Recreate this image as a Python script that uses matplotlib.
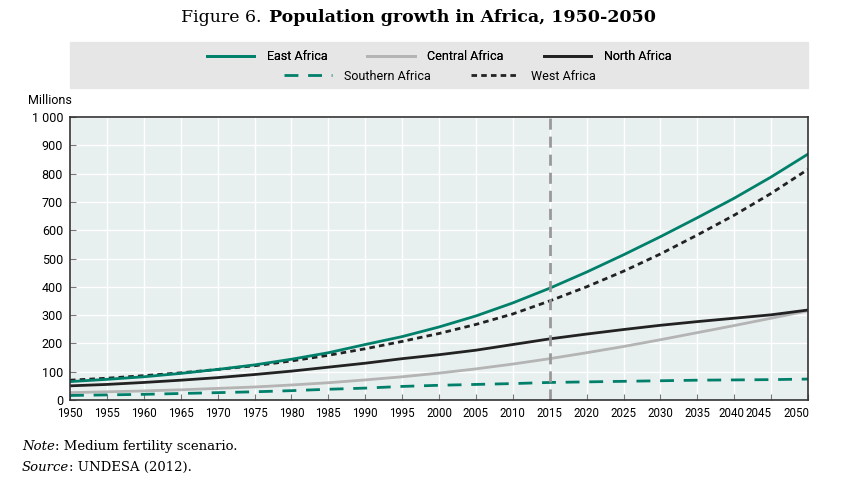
import matplotlib.pyplot as plt
import matplotlib.transforms as mtransforms
from matplotlib.patches import Rectangle
from matplotlib.lines import Line2D

years = list(range(1950, 2051, 5))
east = [65, 73, 82, 94, 108, 124, 144, 167, 196, 224, 258, 297, 343, 395, 452, 513, 577, 644, 713, 788, 869]
central = [26, 29, 32, 36, 41, 46, 53, 61, 71, 82, 95, 110, 127, 146, 167, 189, 213, 238, 263, 289, 315]
north = [50, 55, 62, 70, 79, 90, 102, 116, 130, 146, 160, 176, 196, 216, 233, 249, 264, 277, 289, 301, 318]
southern = [16, 18, 20, 23, 26, 29, 33, 38, 42, 48, 52, 55, 58, 62, 64, 66, 68, 70, 71, 72, 74]
west = [70, 77, 86, 96, 108, 121, 138, 158, 181, 207, 235, 267, 304, 350, 400, 455, 516, 583, 653, 730, 815]
yticks = [0, 100, 200, 300, 400, 500, 600, 700, 800, 900, 1000]
ytick_labels = ['0', '100', '200', '300', '400', '500', '600', '700', '800', '900', '1 000']

GREEN = '#00806a'
GREY = '#b4b4b4'
BLACK = '#222222'
SANS = ['Roboto', 'DejaVu Sans']
SERIF = ['DejaVu Serif']

fig = plt.figure(figsize=(8.54, 4.86), dpi=100)
ax = fig.add_axes([70 / 854, 1 - 400 / 486, 738 / 854, 283 / 486])
ax.set_facecolor('#e8f0ef')

ax.plot(years, central, color=GREY, lw=2)
ax.plot(years, southern, color=GREEN, lw=2, dashes=(5, 3.5))
ax.plot(years, north, color=BLACK, lw=2)
ax.plot(years, west, color=BLACK, lw=2, dashes=(2, 1.5))
ax.plot(years, east, color=GREEN, lw=2)
ax.axvline(2015, color='#999999', lw=2, dashes=(4, 2.5))

ax.set_xlim(1950, 2050)
ax.set_ylim(0, 1000)
ax.set_xticks(years)
ax.set_yticks(yticks)
ax.set_yticklabels(ytick_labels)
ax.grid(True, color='white', lw=1)
ax.set_axisbelow(True)
ax.tick_params(direction='in', length=4, color='#777777', labelsize=9, pad=5)
ax.tick_params(axis='x', labelsize=8.3)
for lab in ax.get_xticklabels() + ax.get_yticklabels():
    lab.set_family(SANS)
# the last year labels sit a little to the left, as in the source
xticks = ax.xaxis.get_major_ticks()
for tick, dx in [(xticks[-3], -3), (xticks[-2], -13), (xticks[-1], -12)]:
    lab = tick.label1
    lab.set_transform(lab.get_transform() + mtransforms.ScaledTranslation(dx / 100, 0, fig.dpi_scale_trans))
for sp in ax.spines.values():
    sp.set_color('#333333')
    sp.set_linewidth(1.2)

fig.text(28 / 854, 1 - 100 / 486, 'Millions', family=SANS, fontsize=9, va='center')

# legend panel
fig.patches.append(Rectangle((70 / 854, 1 - 88 / 486), 738 / 854, 46 / 486,
                             transform=fig.transFigure, color='#e6e6e6', zorder=0))
h1 = [Line2D([], [], color=GREEN, lw=2), Line2D([], [], color=GREY, lw=2),
      Line2D([], [], color=BLACK, lw=2)]
h2 = [Line2D([], [], color=GREEN, lw=2, dashes=(5, 3.5)),
      Line2D([], [], color=BLACK, lw=2, dashes=(2, 1.5))]
leg_kw = dict(frameon=False, handlelength=3.8, columnspacing=3.2, handletextpad=1.0,
              prop={'family': SANS, 'size': 9}, borderpad=0)
leg1 = fig.legend(h1, ['East Africa', 'Central Africa', 'North Africa'], ncol=3,
                  loc='center', bbox_to_anchor=(439 / 854, 1 - 57 / 486), **leg_kw)
fig.legend(h2, ['Southern Africa', 'West Africa'], ncol=2,
           loc='center', bbox_to_anchor=(440 / 854, 1 - 76 / 486), **leg_kw)
fig.add_artist(leg1)

# title
fig.text(267 / 854, 1 - 17 / 486, 'Figure 6. ', family=SERIF, fontsize=12.5,
         ha='right', va='center')
fig.text(269 / 854, 1 - 17 / 486, 'Population growth in Africa, 1950-2050', family=SERIF,
         fontsize=12.5, fontweight='bold', ha='left', va='center')

# notes
n1 = fig.text(22 / 854, 1 - 450 / 486, 'Note', family=SERIF, style='italic', fontsize=9.5,
              va='baseline')
fig.add_artist(plt.Annotation(': Medium fertility scenario.', xy=(1, 0), xycoords=n1,
                              va='bottom', family=SERIF, fontsize=9.5))
n2 = fig.text(22 / 854, 1 - 471 / 486, 'Source', family=SERIF, style='italic', fontsize=9.5,
              va='baseline')
fig.add_artist(plt.Annotation(': UNDESA (2012).', xy=(1, 0), xycoords=n2,
                              va='bottom', family=SERIF, fontsize=9.5))

fig.savefig('out.png', dpi=100)
